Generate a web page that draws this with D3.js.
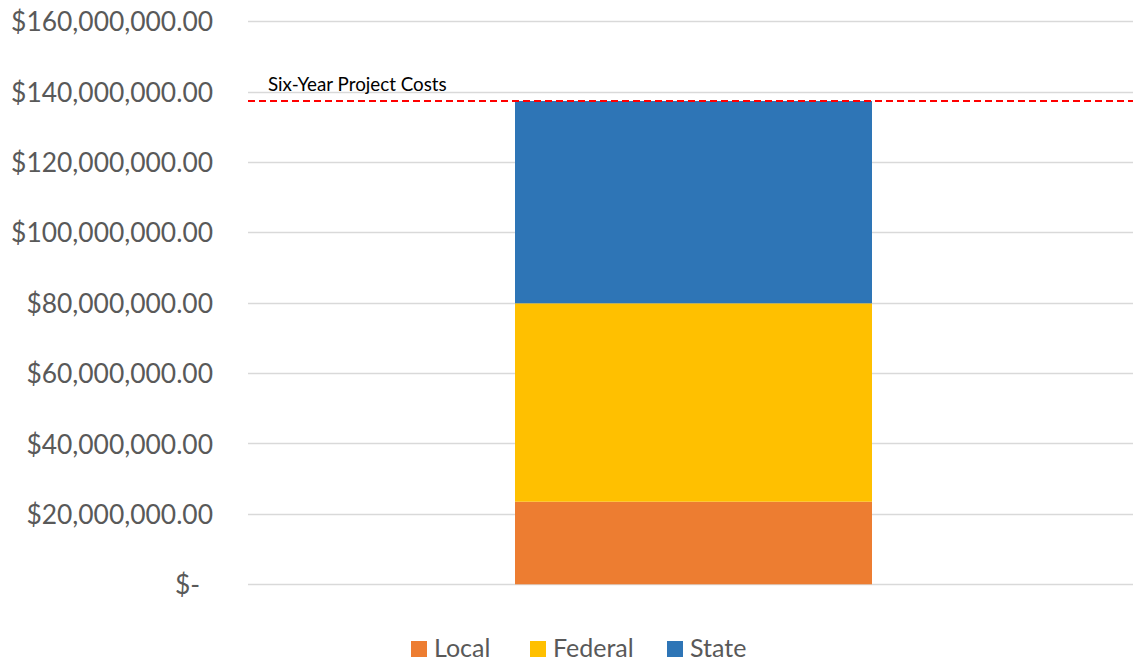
<!DOCTYPE html>
<html>
<head>
<meta charset="utf-8">
<script src="https://cdn.jsdelivr.net/npm/d3@7"></script>
<style>
  html, body { margin: 0; padding: 0; background: #fff; }
  svg { display: block; }
</style>
</head>
<body>
<svg id="chart" width="1133" height="662"></svg>
<script>
// Funding sources stacked into one six-year total
const sources = ["Local", "Federal", "State"];
const amounts = [23470000, 56360000, 57470000];
const colors = ["#ED7D31", "#FFC000", "#2E75B6"];
const yTicks = [0, 20000000, 40000000, 60000000, 80000000, 100000000, 120000000, 140000000, 160000000];
const projectCost = 137300000;
const projectLabel = "Six-Year Project Costs";

const W = 1133, H = 662;
const svg = d3.select("#chart");

const y = d3.scaleLinear().domain([0, 160000000]).range([584.3, 21.1]);

const fmt = d3.format("$,.2f");

// gridlines
svg.append("g")
  .selectAll("line")
  .data(yTicks)
  .join("line")
  .attr("x1", 248).attr("x2", W)
  .attr("y1", d => Math.round(y(d)) + 0.5)
  .attr("y2", d => Math.round(y(d)) + 0.5)
  .attr("stroke", "#D9D9D9")
  .attr("stroke-width", 1.3);

// tick labels
const axis = d3.axisLeft(y)
  .tickValues(yTicks)
  .tickSize(0)
  .tickPadding(0)
  .tickFormat(d => d === 0 ? "$-" : fmt(d));

const gAxis = svg.append("g")
  .attr("transform", "translate(213,0)")
  .call(axis);
gAxis.select(".domain").remove();
gAxis.selectAll("text")
  .attr("font-family", "Lato, 'Open Sans', sans-serif")
  .attr("font-size", 26.4)
  .attr("fill", "#595959")
  .attr("dy", "0.36em")
  .attr("dx", d => d === 0 ? -13 : 0);

// stacked bar
const stackData = [Object.fromEntries(sources.map((s, i) => [s, amounts[i]]))];
const series = d3.stack().keys(sources)(stackData);

svg.append("g")
  .selectAll("rect")
  .data(series)
  .join("rect")
  .attr("x", 515)
  .attr("width", 357)
  .attr("y", d => y(d[0][1]))
  .attr("height", d => y(d[0][0]) - y(d[0][1]))
  .attr("fill", (d, i) => colors[i]);

// project cost reference line
svg.append("line")
  .attr("x1", 248).attr("x2", W)
  .attr("y1", y(projectCost)).attr("y2", y(projectCost))
  .attr("stroke", "#FF0000")
  .attr("stroke-width", 2)
  .attr("stroke-dasharray", "7,4");

svg.append("text")
  .attr("x", 268)
  .attr("y", y(projectCost) - 10)
  .attr("font-family", "Lato, 'Open Sans', sans-serif")
  .attr("font-size", 18.8)
  .attr("fill", "#000")
  .text(projectLabel);

// legend
const legendX = [411, 530, 667];
const lg = svg.append("g");
sources.forEach((s, i) => {
  const g = lg.append("g").attr("transform", `translate(${legendX[i]},641)`);
  g.append("rect").attr("width", 16).attr("height", 16).attr("fill", colors[i]);
  g.append("text")
    .attr("x", 23).attr("y", 7)
    .attr("dy", "0.36em")
    .attr("font-family", "Lato, 'Open Sans', sans-serif")
    .attr("font-size", 25)
    .attr("fill", "#595959")
    .text(s);
});
</script>
</body>
</html>
